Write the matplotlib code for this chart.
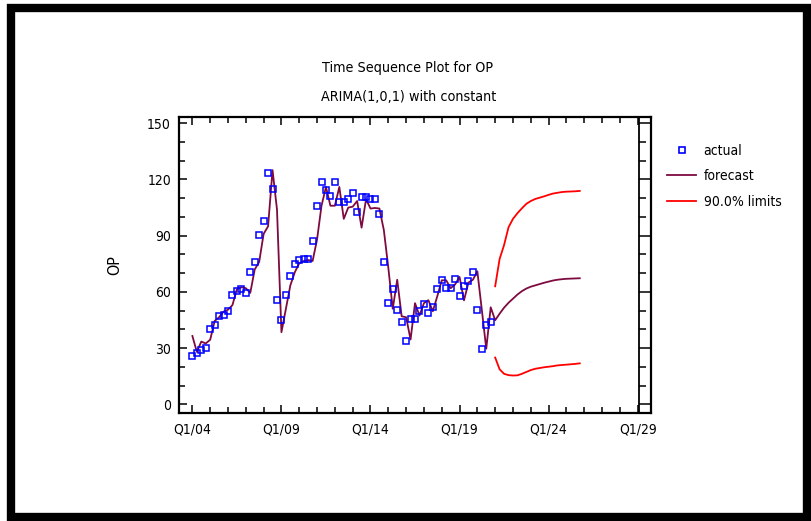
import numpy as np
import matplotlib
matplotlib.use("Agg")
import matplotlib.pyplot as plt
from matplotlib.lines import Line2D
from matplotlib.patches import Rectangle
from matplotlib.ticker import FixedLocator, MultipleLocator

plt.rcParams['font.family'] = ['DejaVu Sans']
plt.rcParams['font.stretch'] = 'condensed'

# ---------------- data ----------------
actual = [25.7, 27.5, 28.9, 30.2, 40.3, 42.3, 47.0, 47.8, 49.7, 58.6,
          60.7, 61.6, 59.5, 70.5, 76.2, 90.6, 98.0, 123.4, 115.1, 55.9,
          44.9, 58.6, 68.7, 75.0, 77.3, 77.8, 77.8, 87.0, 106.0, 118.6,
          114.2, 111.0, 118.6, 108.0, 108.0, 109.7, 112.8, 102.5, 110.7, 110.7,
          109.6, 109.6, 101.4, 76.1, 54.2, 61.5, 50.4, 44.1, 33.9, 45.8,
          45.8, 49.6, 53.6, 48.5, 51.8, 61.5, 66.2, 62.1, 62.1, 67.0,
          57.7, 63.0, 66.0, 70.6, 50.4, 29.5, 42.3, 44.1]
fitted = [36.5, 28, 33.5, 32.5, 34.5, 44.5, 46.5, 49.5, 50.5, 53,
          61.5, 62.5, 62, 59.5, 72, 76, 91, 95, 125, 104,
          38.5, 51, 63.5, 70.5, 75.3, 76.5, 77, 76.5, 88, 106,
          116, 106, 106, 116, 99, 105, 105.5, 108.5, 94.3, 109.5,
          104.5, 104.8, 104.5, 93, 73, 51, 66.5, 47, 46.5, 34.6,
          54, 47.4, 54, 55.6, 49.7, 57.7, 66.2, 66.2, 62, 64,
          68, 55.5, 65, 66.5, 71, 50.5, 29.7, 51.8]
forecast = [44.9, 48.4, 51.6, 54.2, 56.4, 58.6, 60.4, 61.8, 62.8, 63.5,
            64.2, 64.9, 65.5, 66.1, 66.5, 66.8, 67.0, 67.1, 67.2, 67.3]
upper = [63, 77.6, 85, 94.5, 99, 102, 104.6, 107, 108.5, 109.6,
         110.3, 111.0, 111.8, 112.5, 112.9, 113.3, 113.5, 113.6, 113.7, 113.9]
lower = [25, 18.7, 16.3, 15.6, 15.4, 15.5, 16.3, 17.3, 18.3, 19.0,
         19.4, 19.8, 20.1, 20.4, 20.8, 21.0, 21.2, 21.4, 21.6, 21.9]
xtick_labels = ['Q1/04', 'Q1/09', 'Q1/14', 'Q1/19', 'Q1/24', 'Q1/29']
ytick_values = [0, 30, 60, 90, 120, 150]

# ---------------- layout ----------------
W, H = 811, 521
fig = plt.figure(figsize=(W / 100, H / 100), dpi=100)
ax = fig.add_axes([179.3 / W, 1 - 413 / H, (651 - 179.3) / W, (413 - 116.7) / H])

n_act = len(actual)
t_act = np.arange(n_act)
t_fc = np.arange(n_act, n_act + len(forecast))
t_all = np.arange(n_act + len(forecast))
line_all = np.array(fitted + forecast)

maroon = '#7d0a40'
ax.plot(t_all, line_all, color=maroon, lw=1.3, zorder=3)
ax.plot(t_fc, upper, color='#ff0000', lw=1.3, zorder=3)
ax.plot(t_fc, lower, color='#ff0000', lw=1.3, zorder=3)
ax.plot(t_act, actual, ls='none', marker='s', ms=5.0, mfc='none',
        mec='#0000ff', mew=1.1, zorder=4)

xmin, xmax = -2.94, 103.0
ax.set_xlim(xmin, xmax)
ax.set_ylim(-4.6, 153.5)

ax.xaxis.set_major_locator(FixedLocator([20 * i for i in range(len(xtick_labels))]))
ax.set_xticklabels(xtick_labels)
ax.xaxis.set_minor_locator(MultipleLocator(4))
ax.yaxis.set_major_locator(FixedLocator(ytick_values))
ax.yaxis.set_minor_locator(MultipleLocator(10))

ax.tick_params(axis='both', which='major', direction='in', length=6, width=1.1,
               labelsize=10, top=True, right=False)
ax.tick_params(axis='x', which='major', pad=7)
ax.tick_params(axis='y', which='major', pad=6)
ax.tick_params(axis='both', which='minor', direction='in', length=4, width=1.1,
               top=True, right=False)
for s in ax.spines.values():
    s.set_linewidth(1.6)

# inner right axis line with outward ticks
frac = (100.3 - xmin) / (xmax - xmin)
sec = ax.secondary_yaxis(frac)
sec.yaxis.set_major_locator(FixedLocator(ytick_values))
sec.yaxis.set_minor_locator(MultipleLocator(10))
sec.tick_params(which='major', direction='out', length=8.5, width=1.1, labelright=False)
sec.tick_params(which='minor', direction='out', length=5, width=1.1, labelright=False)
sec.spines['right'].set_linewidth(1.3)

ax.set_ylabel('OP', fontsize=11.5, labelpad=18)

fig.text(408 / W, 1 - 68 / H, 'Time Sequence Plot for OP', ha='center', va='center', fontsize=10.3)
fig.text(409 / W, 1 - 97 / H, 'ARIMA(1,0,1) with constant', ha='center', va='center', fontsize=10.3)

handles = [Line2D([], [], ls='none', marker='s', ms=4, mfc='none', mec='#0000ff', mew=1.2),
           Line2D([], [], color=maroon, lw=1.3),
           Line2D([], [], color='#ff0000', lw=1.3)]
fig.legend(handles, ['actual', 'forecast', '90.0% limits'], loc='upper left',
           bbox_to_anchor=(660 / W, 1 - 137 / H), frameon=False, fontsize=10,
           handlelength=2.1, handletextpad=0.55, labelspacing=0.82, borderpad=0)

# outer black frame
fig.patches.append(Rectangle((10.8 / W, 1 - 516.5 / H), (806.5 - 10.8) / W, (516.5 - 8.3) / H,
                             transform=fig.transFigure, fill=False, edgecolor='black',
                             linewidth=6.0, zorder=10))

fig.savefig('out.png', dpi=100)
